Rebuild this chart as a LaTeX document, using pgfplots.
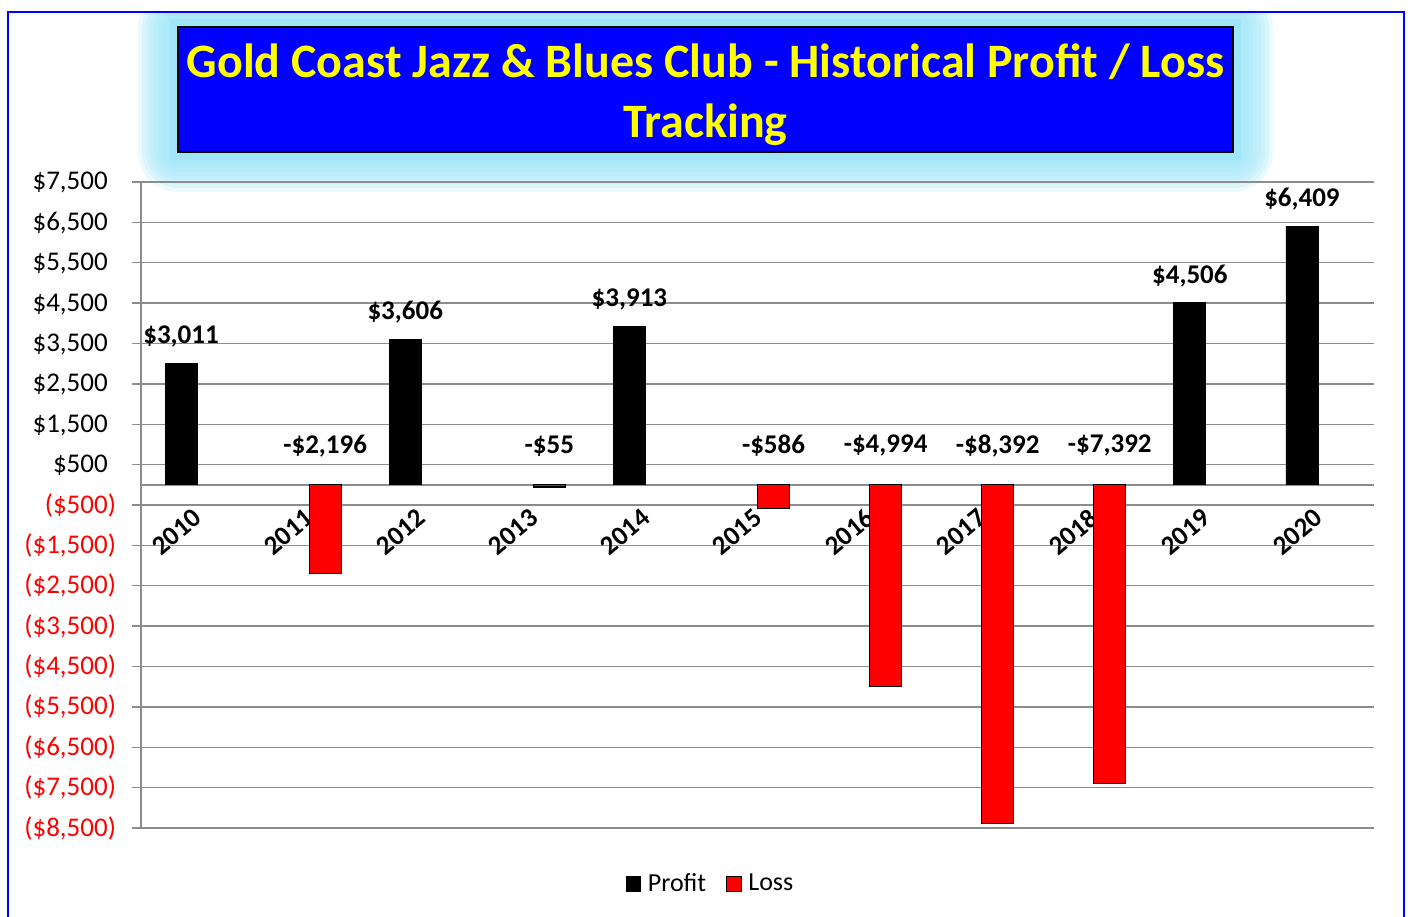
\documentclass[border=0pt]{standalone}
\usepackage{fontspec}
\setmainfont{Carlito}
\usepackage{pgfplots}
\pgfplotsset{compat=1.18}
\definecolor{gridgray}{RGB}{140,140,140}
\definecolor{glow}{RGB}{160,230,248}
\definecolor{titleblue}{RGB}{0,0,255}
\definecolor{titleyellow}{RGB}{255,255,0}
\pgfplotsset{sqlegend/.style={legend image code/.code={\draw[##1, line width=0.4pt] (0pt,-3.6pt) rectangle (7.2pt,3.6pt);}}}
\begin{document}
\begin{tikzpicture}
\useasboundingbox (0,0) rectangle (704pt,458pt);
\begin{scope}
\clip (4.4pt,451.6pt) rectangle (701.6pt,0pt);
\fill[glow] (85pt,378pt) rectangle (620.5pt,448.5pt);
\foreach \e in {6,8,...,20} {
  \fill[glow, opacity=0.22, rounded corners=\e pt] (89pt-\e pt,382pt-\e pt) rectangle (616.5pt+\e pt,444.5pt+\e pt);
}
\end{scope}
\draw[titleblue, line width=0.8pt] (4pt,452pt) rectangle (702pt,-20pt);
\draw[black, line width=0.8pt, fill=titleblue] (89pt,382pt) rectangle (616.5pt,444.5pt);
\node[align=center, text=titleyellow, font=\fontsize{24}{30}\selectfont\bfseries] at (352.75pt,410.75pt) {Gold Coast Jazz \& Blues Club - Historical Profit / Loss\\Tracking};
\begin{axis}[
  at={(70.5pt,44pt)}, anchor=south west,
  width=616.5pt, height=323pt, scale only axis,
  xmin=-0.5, xmax=10.5, ymin=-8500, ymax=7500,
  axis x line=middle, axis y line=left,
  axis line style={gridgray, line width=0.8pt, -},
  xtick={0,1,2,3,4,5,6,7,8,9,10},
  xticklabels={2010,2011,2012,2013,2014,2015,2016,2017,2018,2019,2020},
  minor xtick={-0.5,0.5,1.5,2.5,3.5,4.5,5.5,6.5,7.5,8.5,9.5,10.5},
  xtick style={draw=none},
  minor x tick style={gridgray, line width=0.7pt, yshift=3.5pt},
  minor tick length=3.5pt,
  major tick length=4.5pt,
  tick align=outside,
  ytick={-8500,-7500,-6500,-5500,-4500,-3500,-2500,-1500,-500,500,1500,2500,3500,4500,5500,6500,7500},
  yticklabels={{\textcolor{red}{(\$8,500)}},{\textcolor{red}{(\$7,500)}},{\textcolor{red}{(\$6,500)}},{\textcolor{red}{(\$5,500)}},{\textcolor{red}{(\$4,500)}},{\textcolor{red}{(\$3,500)}},{\textcolor{red}{(\$2,500)}},{\textcolor{red}{(\$1,500)}},{\textcolor{red}{(\$500)}},{\$500\phantom{)}},{\$1,500\phantom{)}},{\$2,500\phantom{)}},{\$3,500\phantom{)}},{\$4,500\phantom{)}},{\$5,500\phantom{)}},{\$6,500\phantom{)}},{\$7,500\phantom{)}}},
  ytick style={gridgray, line width=0.7pt},
  ymajorgrids, grid style={gridgray, line width=0.7pt},
  tick label style={font=\fontsize{13.5}{15}\selectfont},
  yticklabel style={anchor=east, xshift=-4.5pt},
  xticklabel style={xshift=3pt, yshift=-8pt, rotate=40, anchor=east, font=\fontsize{13.5}{15}\selectfont\bfseries},
  legend style={at={(0.4627,-0.0867)}, anchor=center, draw=none, fill=none, legend columns=2, font=\fontsize{13}{15}\selectfont, /tikz/every odd column/.append style={column sep=1.5pt}, /tikz/every even column/.append style={column sep=8pt}},
  legend cell align=left,
  clip=false,
]
\addplot[ybar, bar width=16pt, bar shift=-8pt, fill=black, draw=black, sqlegend,
  nodes near coords, point meta=explicit symbolic,
  every node near coord/.append style={anchor=center, xshift=-8pt, yshift=13.5pt, font=\fontsize{13.5}{15}\selectfont\bfseries}]
  coordinates {(0,3011) [\$3,011] (2,3606) [\$3,606] (4,3913) [\$3,913] (9,4506) [\$4,506] (10,6409) [\$6,409]};
\addlegendentry{Profit}
\addplot[ybar, bar width=16pt, bar shift=8pt, fill=red, draw=black, line width=0.6pt, sqlegend]
  coordinates {(1,-2196) (3,-55) (5,-586) (6,-4994) (7,-8392) (8,-7392)};
\addlegendentry{Loss}
\addplot[draw=none, mark=none, forget plot, nodes near coords, point meta=explicit symbolic,
  every node near coord/.append style={anchor=center, xshift=8pt, yshift=19.5pt, font=\fontsize{13.5}{15}\selectfont\bfseries}]
  coordinates {(1,0) [-\$2,196] (3,0) [-\$55] (5,0) [-\$586] (6,0) [-\$4,994] (7,0) [-\$8,392] (8,0) [-\$7,392]};
\end{axis}
\end{tikzpicture}
\end{document}
